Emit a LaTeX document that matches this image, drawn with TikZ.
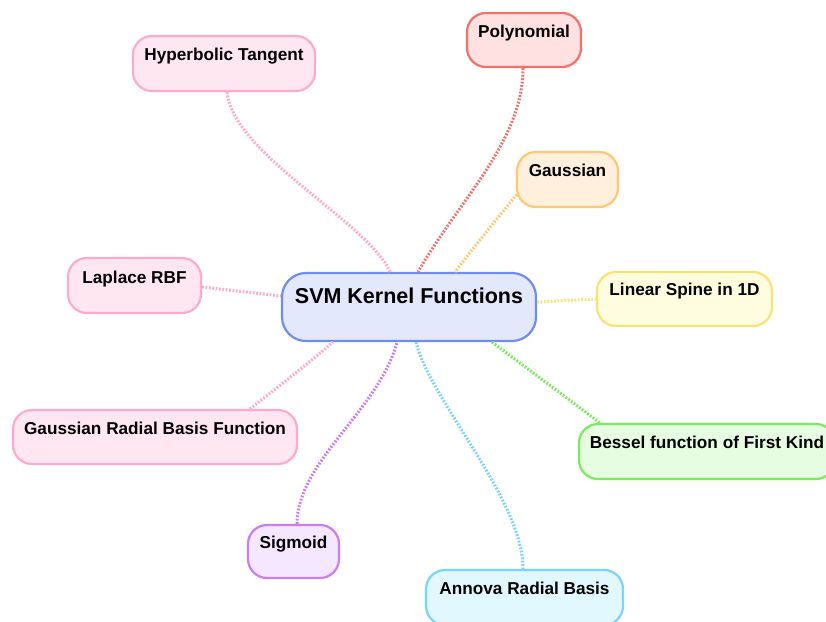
\documentclass[tikz,border=0pt]{standalone}
\usepackage{fontspec}
\setmainfont{Liberation Sans}
\definecolor{svmfill}{HTML}{E3E8FD}
\definecolor{svmline}{HTML}{6F8CF2}
\definecolor{redfill}{HTML}{FFE1E1}
\definecolor{redline}{HTML}{F2716A}
\definecolor{pinkfill}{HTML}{FFE7F1}
\definecolor{pinkline}{HTML}{FFAACD}
\definecolor{orangefill}{HTML}{FFF0DD}
\definecolor{orangeline}{HTML}{FFC772}
\definecolor{yellowfill}{HTML}{FFFDE0}
\definecolor{yellowline}{HTML}{F8E375}
\definecolor{greenfill}{HTML}{E7FDE2}
\definecolor{greenline}{HTML}{7AEB5C}
\definecolor{cyanfill}{HTML}{E2F8FF}
\definecolor{cyanline}{HTML}{7DD3FF}
\definecolor{purplefill}{HTML}{F5E7FF}
\definecolor{purpleline}{HTML}{CB7DF5}
\tikzset{
  box/.style={draw, line width=2.2pt, rounded corners=19pt, inner sep=0pt,
    align=center, font=\fontsize{17.2}{20}\selectfont\bfseries},
  rootbox/.style={box, rounded corners=24pt,
    font=\fontsize{21.5}{25}\selectfont\bfseries},
  link/.style={line width=3pt, dash pattern=on 1.8pt off 1.6pt},
}
\begin{document}
\begin{tikzpicture}[x=1pt,y=-1pt]
\useasboundingbox (0,0) rectangle (826,621);
\fill[white] (0,0) rectangle (826,621);
\clip (0,0) rectangle (826,621);

% central topic
\node[rootbox, draw=svmline, fill=svmfill, minimum width=254pt,
  text height=30.5pt, text depth=37.5pt] (svm) at (409,307) {SVM Kernel Functions};

% kernels
\node[box, draw=redline, fill=redfill, minimum width=114pt,
  text height=24pt, text depth=30pt] (poly) at (524,40) {Polynomial};
\node[box, draw=pinkline, fill=pinkfill, minimum width=182pt,
  text height=24pt, text depth=31pt] (hyp) at (224,63.5) {Hyperbolic Tangent};
\node[box, draw=orangeline, fill=orangefill, minimum width=101pt,
  text height=24pt, text depth=31pt] (gauss) at (567.5,179.5) {Gaussian};
\node[box, draw=yellowline, fill=yellowfill, minimum width=175pt,
  text height=23pt, text depth=31pt] (lin) at (684.5,299) {Linear Spine in 1D};
\node[box, draw=pinkline, fill=pinkfill, minimum width=133pt,
  text height=25pt, text depth=30pt] (lap) at (134.5,285.5) {Laplace RBF};
\node[box, draw=pinkline, fill=pinkfill, minimum width=284pt,
  text height=24pt, text depth=30pt] (grbf) at (155,437) {Gaussian Radial Basis Function};
\node[box, draw=greenline, fill=greenfill, minimum width=256pt,
  text height=24pt, text depth=31pt] (bessel) at (707,451.5) {Bessel function of First Kind};
\node[box, draw=cyanline, fill=cyanfill, minimum width=197pt,
  text height=24pt, text depth=31pt] (annova) at (524.5,597.5) {Annova Radial Basis};
\node[box, draw=purpleline, fill=purplefill, minimum width=91pt,
  text height=23pt, text depth=30pt] (sig) at (293.5,551.5) {Sigmoid};

% dotted links from each kernel to the centre
\draw[link, pinkline] ([xshift=3pt]hyp.south)
  .. controls +(6,62) and +(-22,-50) .. ([xshift=-19pt]svm.north);
\draw[link, redline] ([xshift=-1pt]poly.south)
  .. controls +(0,73) and +(42,-73) .. ([xshift=9pt]svm.north);
\draw[link, orangeline] ([xshift=1pt,yshift=-15pt]gauss.west)
  .. controls +(-20,24) and +(20,-26) .. ([xshift=46pt]svm.north);
\draw[link, yellowline] ([yshift=5pt]svm.east) -- (lin.west);
\draw[link, pinkline] ([yshift=-1.5pt]lap.east) -- ([yshift=11pt]svm.west);
\draw[link, pinkline] ([xshift=95pt]grbf.north)
  .. controls +(28,-22) and +(-28,24) .. ([xshift=-76pt]svm.south);
\draw[link, purpleline] ([xshift=3.5pt]sig.north)
  .. controls +(0,-62) and +(-18,68) .. ([xshift=-12pt]svm.south);
\draw[link, cyanline] ([xshift=7pt]svm.south)
  .. controls +(14,58) and +(0,-70) .. ([xshift=-1.5pt]annova.north);
\draw[link, greenline] ([xshift=83pt]svm.south) -- ([xshift=-107pt]bessel.north);
\end{tikzpicture}
\end{document}
